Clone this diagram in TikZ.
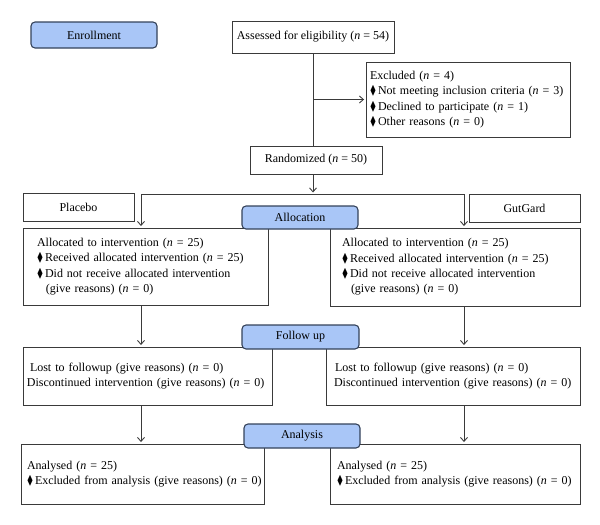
\documentclass[tikz,border=0pt]{standalone}
\usepackage{amssymb}
\usepackage{fontspec}
\setmainfont{Liberation Serif}
\usetikzlibrary{positioning}
\usetikzlibrary{arrows.meta}
\definecolor{stagefill}{HTML}{A9C6F7}
\definecolor{stageline}{HTML}{34425A}
\definecolor{boxline}{HTML}{3A3A3A}
\newcommand{\fsz}{\fontsize{12}{15.4}\selectfont}
\newcommand{\dmd}{\scalebox{0.75}[1.05]{$\blacklozenge$}\,}
\newcommand{\nn}{\textit{n}}
\tikzset{
    stagebox/.style = {rectangle, rounded corners=4pt, line width=1.1pt, draw=stageline, fill=stagefill, inner sep=0pt, align=center, font=\fsz, text=black},
    plainbox/.style = {rectangle, line width=0.9pt, draw=boxline, fill=white, inner sep=0pt, align=center, font=\fsz, text=black},
    listbox/.style = {plainbox, align=left},
    edgen/.style = {-, line width=0.9pt, boxline},
    edgea/.style = {-{Straight Barb[length=4pt,width=7pt]}, line width=0.9pt, boxline, shorten >=1.5pt},
}
\begin{document}
\begin{tikzpicture}[x=1pt, y=-1pt]
\useasboundingbox (0,0) rectangle (600,525);
%
\node[stagebox, minimum width=126pt, minimum height=26pt] at (94,35) (enroll) {Enrollment};
\node[plainbox, minimum width=162pt, minimum height=32pt] at (313,37) (assess) {Assessed for eligibility (\nn{} = 54)};
\node[listbox, text width=196pt, inner xsep=4pt, minimum height=75pt] at (468,99.5) (excl) {Excluded (\nn{} = 4)\\
\mbox{\dmd Not meeting inclusion criteria (\nn{} = 3)}\\
\dmd Declined to participate (\nn{} = 1)\\
\dmd Other reasons (\nn{} = 0)};
\node[plainbox, minimum width=132pt, minimum height=28pt] at (316,160) (rand) {Randomized (\nn{} = 50)};
%
\node[plainbox, minimum width=111pt, minimum height=28pt] at (78.5,207) (placebo) {Placebo};
\node[plainbox, minimum width=111pt, minimum height=28pt] at (524.5,208) (gutgard) {GutGard};
\node[listbox, text width=217pt, inner xsep=14pt, minimum height=77pt] at (145.5,266.5) (allocL) {Allocated to intervention (\nn{} = 25)\\
\dmd Received allocated intervention (\nn{} = 25)\\
\dmd Did not receive allocated intervention\\
\hspace*{9pt}(give reasons) (\nn{} = 0)};
\node[listbox, text width=226pt, inner xsep=12pt, minimum height=78pt] at (455,267) (allocR) {Allocated to intervention (\nn{} = 25)\\
\dmd Received allocated intervention (\nn{} = 25)\\
\dmd Did not receive allocated intervention\\
\hspace*{9pt}(give reasons) (\nn{} = 0)};
%
\node[listbox, text width=241pt, inner xsep=4pt, minimum height=58pt] at (147.5,376) (followL) {\hspace*{3pt}Lost to followup (give reasons) (\nn{} = 0)\\
\mbox{Discontinued intervention (give reasons) (\nn{} = 0)}};
\node[listbox, text width=238pt, inner xsep=8pt, minimum height=58pt] at (453,376) (followR) {\hspace*{1pt}Lost to followup (give reasons) (\nn{} = 0)\\
\mbox{Discontinued intervention (give reasons) (\nn{} = 0)}};
%
\node[listbox, text width=237pt, inner xsep=3pt, minimum height=60pt] at (142.5,474) (analL) {\hspace*{3pt}Analysed (\nn{} = 25)\\
\mbox{\hspace*{3pt}\dmd Excluded from analysis (give reasons) (\nn{} = 0)}};
\node[listbox, text width=236pt, inner xsep=7pt, minimum height=60pt] at (455,474) (analR) {Analysed (\nn{} = 25)\\
\mbox{\dmd Excluded from analysis (give reasons) (\nn{} = 0)}};
%
\coordinate (split) at (313,194);
\coordinate (splitL) at (141,194);
\coordinate (splitR) at (464,194);
%
\draw[edgen] (assess.south) -- (assess.south |- rand.north);
\draw[edgea] (assess.south |- excl.west) -- (excl.west);
\draw[edgea] (rand.south -| split) -- (split);
\draw[edgen] (splitL) -- (splitR);
\draw[edgea] (splitL) -- (splitL |- allocL.north);
\draw[edgea] (splitR) -- (splitR |- allocR.north);
\draw[edgea] (splitL |- allocL.south) -- (splitL |- followL.north);
\draw[edgea] (splitR |- allocR.south) -- (splitR |- followR.north);
\draw[edgea] (splitL |- followL.south) -- (splitL |- analL.north);
\draw[edgea] (splitR |- followR.south) -- (splitR |- analR.north);
%
\node[stagebox, minimum width=116pt, minimum height=23pt] at (300,217.5) (alloc) {Allocation};
\node[stagebox, minimum width=117pt, minimum height=24pt] at (300.5,337) (follow) {Follow up};
\node[stagebox, minimum width=116pt, minimum height=24pt] at (302,436) (anal) {Analysis};

\end{tikzpicture}
\end{document}
